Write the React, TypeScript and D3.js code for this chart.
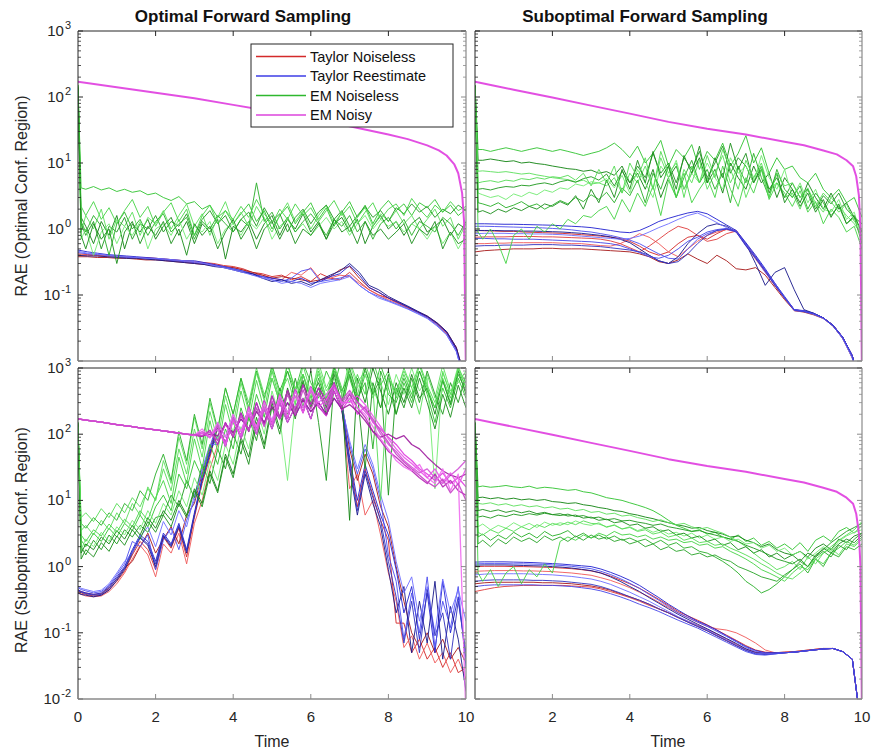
import React from "react";
import * as d3 from "d3";

// ---------- time grids ----------
const tNoise: number[] = [0, 0.08, ...d3.range(1, 51).map((i) => +(i * 0.2).toFixed(2))];
const tSmooth: number[] = d3.range(0, 41).map((i) => i * 0.25);
const tMagOpt = [0, 1, 2, 3, 4, 5, 6, 7, 8, 8.5, 9, 9.3, 9.5, 9.7, 9.8, 9.9, 9.95, 10];
const tMagSub = [0, 0.5, 1, 2, 3, 4, 5, 6, 7, 8, 8.5, 9, 9.35, 9.6, 9.77, 9.85, 9.92, 9.96, 10];

// ---------- EM Noisy (smooth) ----------
const magOpt = [170, 140, 116, 96, 76, 60, 47, 36, 27, 23, 18.5, 15.5, 13, 9.5, 7, 3.5, 1.3, 0.005];
const magSub = [170, 148, 129, 98, 74, 56, 42, 33, 27, 21, 18.6, 15.5, 13.5, 11, 8.9, 6.3, 3.2, 1, 0.005];

// ---------- Top-left ----------
const tlGreen = [
  [150, 4.2, 4.0, 4.4, 3.9, 4.2, 3.7, 4.0, 3.6, 3.8, 3.3, 3.5, 3.0, 2.7, 3.1, 2.4, 2.6, 2.0, 2.3, 1.5, 1.9, 1.2, 1.7, 2.4, 1.3, 1.9, 1.0, 1.6, 2.2, 1.2, 1.8, 2.5, 1.4, 2.1, 1.1, 1.8, 2.6, 1.5, 2.3, 1.2, 2.0, 2.7, 1.9, 2.4, 1.6, 2.5, 2.1, 2.8, 1.8, 2.3, 1.6, 2.0],
  [140, 1.5, 1.1, 0.6, 1.3, 0.8, 1.6, 0.5, 1.2, 0.9, 1.4, 0.7, 1.1, 1.5, 0.8, 1.3, 0.6, 1.2, 0.9, 1.4, 0.35, 1.1, 0.9, 1.3, 0.7, 1.2, 1.6, 0.8, 1.4, 1.0, 1.7, 0.9, 1.3, 0.7, 1.2, 1.5, 0.9, 1.4, 0.6, 1.1, 1.6, 1.0, 1.3, 0.8, 1.2, 1.5, 0.9, 1.1, 1.4, 0.8, 1.2, 1.0],
  [150, 0.9, 1.6, 1.0, 2.0, 0.7, 1.4, 1.1, 1.8, 0.8, 1.5, 1.2, 1.9, 1.0, 1.6, 2.4, 1.1, 1.7, 0.8, 1.5, 2.6, 1.2, 1.8, 1.1, 2.2, 1.4, 0.9, 1.6, 2.5, 1.3, 1.9, 1.0, 1.6, 2.3, 1.2, 1.8, 0.9, 1.5, 2.1, 1.1, 1.7, 1.3, 1.9, 1.2, 1.6, 1.0, 1.4, 2.0, 1.1, 1.5, 0.7, 1.2],
  [130, 1.2, 0.8, 1.3, 0.5, 1.1, 0.9, 1.5, 0.7, 1.2, 1.0, 1.6, 0.9, 1.3, 1.1, 1.7, 0.8, 1.4, 1.9, 1.2, 1.6, 0.9, 1.4, 1.8, 1.1, 2.1, 1.3, 1.7, 0.9, 1.5, 2.0, 1.2, 1.8, 2.3, 1.4, 1.9, 1.1, 1.6, 2.2, 1.5, 1.9, 1.3, 2.1, 1.7, 2.4, 1.8, 2.2, 1.5, 2.0, 1.7, 2.3, 1.9],
  [120, 0.7, 1.0, 0.4, 0.9, 1.2, 0.6, 1.1, 0.8, 1.3, 0.5, 1.0, 1.2, 0.8, 1.4, 0.7, 1.1, 0.9, 1.3, 0.6, 1.0, 1.2, 0.8, 1.3, 1.0, 1.5, 0.7, 1.1, 1.4, 0.9, 1.2, 0.8, 1.1, 1.5, 1.0, 1.3, 0.8, 1.2, 1.6, 1.0, 1.4, 1.1, 1.3, 0.9, 1.2, 1.0, 0.7, 1.1, 0.6, 0.9, 0.5, 0.8],
  [150, 1.3, 0.9, 1.6, 1.1, 0.4, 1.2, 1.8, 1.0, 1.4, 0.8, 1.3, 1.7, 0.9, 1.2, 1.5, 0.7, 1.3, 1.0, 1.6, 1.2, 0.9, 1.4, 1.1, 5.0, 1.3, 1.8, 1.0, 1.5, 0.9, 1.3, 1.7, 1.2, 0.8, 1.4, 1.1, 1.6, 0.9, 1.3, 0.7, 1.2, 1.5, 1.0, 1.4, 0.8, 1.3, 1.1, 0.9, 1.5, 1.2, 0.8, 1.3],
  [150, 2.2, 1.6, 2.6, 1.4, 2.1, 1.2, 1.9, 2.8, 1.5, 2.2, 1.1, 1.8, 2.5, 1.3, 2.0, 0.8, 1.6, 2.3, 1.2, 1.9, 1.4, 2.2, 1.5, 2.8, 1.7, 1.2, 2.0, 1.4, 2.4, 1.6, 2.1, 1.3, 1.9, 2.7, 1.6, 2.2, 1.2, 1.8, 2.5, 1.4, 2.0, 2.4, 1.6, 2.9, 2.0, 1.5, 2.3, 1.8, 2.6, 1.9, 2.2],
  [140, 0.8, 0.5, 1.2, 0.7, 1.0, 0.3, 0.9, 1.3, 0.6, 1.1, 0.8, 1.3, 0.6, 1.0, 0.4, 1.2, 0.8, 1.1, 0.5, 0.9, 1.4, 0.7, 1.1, 0.5, 1.0, 1.3, 0.7, 1.2, 0.6, 1.0, 0.8, 1.2, 0.7, 1.4, 0.9, 1.1, 0.6, 1.3, 0.8, 1.0, 0.7, 0.9, 1.2, 0.6, 1.0, 0.8, 1.3, 0.5, 0.9, 0.6, 0.7],
];
const tlRed = [
  [0.42, 0.41, 0.40, 0.40, 0.39, 0.38, 0.37, 0.37, 0.36, 0.35, 0.34, 0.33, 0.32, 0.31, 0.30, 0.28, 0.27, 0.25, 0.22, 0.21, 0.19, 0.20, 0.17, 0.19, 0.16, 0.21, 0.18, 0.17, 0.22, 0.16, 0.12, 0.10, 0.09, 0.075, 0.064, 0.055, 0.047, 0.037, 0.027, 0.016, 0.004],
  [0.40, 0.40, 0.39, 0.38, 0.38, 0.37, 0.36, 0.35, 0.35, 0.34, 0.33, 0.32, 0.31, 0.30, 0.29, 0.27, 0.26, 0.24, 0.21, 0.20, 0.18, 0.17, 0.22, 0.20, 0.26, 0.17, 0.18, 0.20, 0.19, 0.15, 0.12, 0.10, 0.085, 0.075, 0.065, 0.055, 0.046, 0.036, 0.026, 0.015, 0.004],
  [0.38, 0.38, 0.37, 0.37, 0.36, 0.36, 0.35, 0.34, 0.34, 0.33, 0.32, 0.31, 0.30, 0.29, 0.28, 0.27, 0.26, 0.24, 0.22, 0.20, 0.18, 0.19, 0.18, 0.17, 0.16, 0.17, 0.19, 0.24, 0.27, 0.18, 0.13, 0.11, 0.09, 0.078, 0.066, 0.056, 0.048, 0.038, 0.028, 0.016, 0.005],
];
const tlBlue = [
  [0.48, 0.45, 0.43, 0.41, 0.40, 0.39, 0.38, 0.37, 0.36, 0.35, 0.34, 0.33, 0.33, 0.31, 0.29, 0.27, 0.25, 0.23, 0.21, 0.19, 0.18, 0.17, 0.16, 0.18, 0.15, 0.16, 0.19, 0.21, 0.28, 0.20, 0.13, 0.11, 0.09, 0.077, 0.066, 0.055, 0.047, 0.037, 0.027, 0.015, 0.004],
  [0.44, 0.42, 0.41, 0.40, 0.38, 0.37, 0.37, 0.36, 0.35, 0.34, 0.33, 0.32, 0.31, 0.30, 0.28, 0.27, 0.25, 0.23, 0.20, 0.19, 0.17, 0.16, 0.18, 0.23, 0.25, 0.16, 0.17, 0.18, 0.20, 0.14, 0.11, 0.095, 0.082, 0.072, 0.062, 0.053, 0.045, 0.035, 0.025, 0.014, 0.004],
  [0.40, 0.39, 0.39, 0.38, 0.37, 0.36, 0.36, 0.35, 0.34, 0.33, 0.32, 0.31, 0.30, 0.29, 0.27, 0.26, 0.24, 0.22, 0.21, 0.18, 0.16, 0.17, 0.15, 0.16, 0.14, 0.17, 0.20, 0.23, 0.30, 0.22, 0.14, 0.12, 0.095, 0.08, 0.068, 0.057, 0.048, 0.038, 0.028, 0.016, 0.005],
  [0.46, 0.43, 0.42, 0.40, 0.39, 0.38, 0.37, 0.36, 0.36, 0.35, 0.34, 0.33, 0.32, 0.30, 0.28, 0.26, 0.24, 0.22, 0.20, 0.18, 0.17, 0.15, 0.16, 0.15, 0.13, 0.15, 0.16, 0.17, 0.19, 0.14, 0.11, 0.09, 0.08, 0.07, 0.061, 0.052, 0.044, 0.034, 0.025, 0.014, 0.004],
];

// ---------- Top-right ----------
const trGreen = [
  [150, 16, 16, 15, 16, 17, 16, 15, 16, 17, 16, 15, 16, 15, 14, 13, 14, 15, 17, 20, 16, 12, 18, 10, 14, 22, 9, 16, 12, 19, 8, 15, 11, 20, 9, 14, 26, 10, 17, 7, 12, 8, 9, 6, 5, 7, 4, 3, 4, 2.5, 3, 1.5],
  [150, 11, 11, 11.5, 11, 10.5, 10.8, 10, 10.3, 9.8, 9.5, 9.0, 8.6, 8.2, 8.0, 7.5, 7.8, 7.0, 7.4, 6.5, 9, 5, 7, 4, 8, 3, 6, 9, 4, 7, 12, 5, 8, 3.5, 10, 6, 4, 9, 5, 7, 3, 6, 4, 2.5, 5, 3, 2, 3.5, 2, 2.5, 1.5, 1.2],
  [140, 7.5, 7.6, 7.4, 7.2, 7.4, 7.1, 6.8, 7.0, 6.6, 6.3, 6.0, 5.8, 5.6, 5.2, 5.5, 4.8, 5.0, 4.5, 6, 3.5, 7, 5, 9, 4, 12, 6, 3, 8, 5, 11, 4, 7, 13, 5, 9, 3, 6, 10, 4, 5, 3, 3.5, 2, 4, 2.5, 1.8, 3, 2.2, 1.6, 1.2, 0.8],
  [130, 4, 4.1, 3.9, 4.2, 4.4, 4.3, 4.6, 4.5, 4.8, 5.0, 4.7, 5.2, 5.5, 5.1, 5.8, 6.2, 5.5, 6.8, 4.5, 7.5, 5, 9, 6, 14, 7, 10, 5, 12, 8, 15, 6, 10, 18, 7, 12, 9, 5, 8, 4, 6, 3, 5, 3, 4, 2, 3.2, 2.4, 3.5, 2.0, 1.5, 0.9],
  [120, 3.5, 3.3, 3.0, 3.2, 2.8, 3.4, 3.1, 3.6, 3.3, 3.9, 3.6, 4.2, 4.0, 4.8, 4.5, 5.2, 5.0, 5.8, 4.2, 6.5, 3.5, 8, 5, 3, 9, 6, 11, 4, 7, 5, 10, 6, 4, 12, 7, 9, 5, 13, 6, 4, 8, 3, 5, 2.5, 4, 2, 1.8, 2.8, 1.4, 1.8, 0.7],
  [150, 2.5, 2.4, 2.2, 2.5, 2.1, 2.3, 2.6, 2.2, 2.4, 2.0, 2.3, 2.7, 2.4, 3.0, 2.6, 3.3, 2.8, 3.6, 2.5, 4.2, 3.2, 5.5, 2.5, 7, 4, 9, 3, 6, 11, 5, 8, 4, 7, 2.5, 9, 5, 14, 6, 3, 8, 4, 3, 4.5, 2, 3.5, 2.5, 1.6, 2.2, 1.2, 1.5, 0.6],
  [150, 0.9, 0.7, 1.0, 0.6, 0.3, 0.8, 1.0, 0.7, 1.1, 0.9, 1.2, 1.0, 1.4, 1.2, 1.6, 1.5, 1.9, 2.2, 1.4, 2.8, 1.8, 3.5, 2.2, 4.5, 1.6, 5.5, 3.0, 7, 2.5, 4, 6, 3, 9, 4, 2.2, 6, 3.5, 8, 2.8, 5, 3.5, 2.2, 3.8, 1.8, 2.6, 1.2, 2.0, 1.5, 0.9, 1.1, 0.5],
  [150, 1.8, 1.9, 1.7, 2.0, 1.8, 2.1, 1.9, 2.2, 2.0, 2.4, 2.2, 2.6, 2.3, 3.2, 2.0, 4.0, 2.5, 5.5, 3.0, 8, 4, 11, 5, 15, 6, 9, 4, 13, 7, 18, 5, 12, 6, 20, 8, 14, 5, 9, 3.5, 7, 2.5, 4, 2.2, 3.5, 1.8, 2.8, 1.5, 2.4, 1.2, 1.6, 0.9],
  [140, 5, 5.2, 5.4, 5.1, 5.5, 5.3, 5.8, 5.6, 6.0, 5.7, 6.2, 6.0, 6.5, 5.5, 7, 4.5, 8, 5, 9, 3.5, 10, 6, 12, 4, 15, 7, 10, 3, 9, 5, 13, 6, 16, 8, 4, 11, 6, 9, 3, 7, 4.5, 5, 3, 4.2, 2.2, 3.5, 2.6, 1.8, 2.4, 1.3, 1.0],
];
const trRed = [
  [0.95, 0.94, 0.93, 0.92, 0.92, 0.9, 0.89, 0.88, 0.87, 0.86, 0.84, 0.82, 0.8, 0.78, 0.75, 0.72, 0.65, 0.55, 0.45, 0.4, 0.45, 0.6, 0.75, 0.8, 0.7, 0.85, 1.0, 0.95, 0.6, 0.38, 0.23, 0.14, 0.09, 0.058, 0.056, 0.052, 0.045, 0.035, 0.023, 0.012, 0.003],
  [0.6, 0.6, 0.61, 0.61, 0.62, 0.62, 0.62, 0.62, 0.62, 0.61, 0.6, 0.6, 0.58, 0.56, 0.55, 0.6, 0.7, 0.85, 0.75, 0.6, 0.45, 0.38, 0.5, 0.65, 0.8, 0.9, 0.98, 0.9, 0.56, 0.35, 0.22, 0.14, 0.09, 0.06, 0.057, 0.052, 0.045, 0.034, 0.022, 0.012, 0.003],
  [0.45, 0.47, 0.48, 0.49, 0.5, 0.5, 0.5, 0.51, 0.51, 0.5, 0.5, 0.5, 0.49, 0.48, 0.47, 0.46, 0.45, 0.42, 0.38, 0.32, 0.3, 0.34, 0.42, 0.35, 0.3, 0.4, 0.33, 0.25, 0.24, 0.26, 0.2, 0.13, 0.085, 0.058, 0.055, 0.05, 0.044, 0.034, 0.022, 0.011, 0.003],
  [0.75, 0.76, 0.76, 0.76, 0.77, 0.77, 0.77, 0.76, 0.76, 0.75, 0.74, 0.73, 0.72, 0.7, 0.66, 0.6, 0.52, 0.45, 0.55, 0.7, 0.9, 1.1, 1.0, 0.8, 0.65, 0.7, 0.85, 0.93, 0.58, 0.37, 0.23, 0.14, 0.09, 0.06, 0.056, 0.052, 0.045, 0.035, 0.023, 0.012, 0.003],
];
const trBlue = [
  [1.2, 1.2, 1.19, 1.18, 1.18, 1.17, 1.16, 1.15, 1.14, 1.12, 1.10, 1.08, 1.05, 1.0, 0.95, 0.9, 0.88, 0.95, 1.1, 1.3, 1.45, 1.6, 1.75, 1.85, 1.7, 1.4, 1.15, 0.95, 0.62, 0.4, 0.25, 0.15, 0.095, 0.06, 0.058, 0.053, 0.045, 0.035, 0.023, 0.012, 0.003],
  [1.1, 1.1, 1.09, 1.08, 1.07, 1.06, 1.05, 1.04, 1.02, 1.0, 0.97, 0.93, 0.9, 0.85, 0.8, 0.74, 0.68, 0.6, 0.5, 0.42, 0.36, 0.35, 0.5, 0.7, 0.85, 0.95, 1.0, 0.9, 0.55, 0.38, 0.24, 0.15, 0.09, 0.06, 0.057, 0.052, 0.045, 0.034, 0.022, 0.012, 0.003],
  [0.95, 0.95, 0.95, 0.94, 0.94, 0.93, 0.93, 0.92, 0.91, 0.9, 0.88, 0.86, 0.83, 0.8, 0.76, 0.7, 0.62, 0.5, 0.4, 0.33, 0.3, 0.38, 0.6, 0.85, 1.1, 1.2, 1.1, 0.9, 0.6, 0.3, 0.14, 0.22, 0.26, 0.12, 0.06, 0.053, 0.045, 0.035, 0.023, 0.012, 0.003],
  [0.85, 0.86, 0.86, 0.86, 0.85, 0.85, 0.84, 0.84, 0.83, 0.82, 0.8, 0.78, 0.76, 0.74, 0.72, 0.7, 0.72, 0.78, 0.9, 1.05, 1.2, 1.4, 1.6, 1.75, 1.5, 1.25, 1.05, 0.92, 0.58, 0.36, 0.22, 0.14, 0.09, 0.058, 0.056, 0.051, 0.044, 0.034, 0.022, 0.011, 0.003],
  [0.55, 0.56, 0.56, 0.57, 0.57, 0.57, 0.58, 0.58, 0.58, 0.57, 0.57, 0.56, 0.55, 0.54, 0.52, 0.5, 0.48, 0.45, 0.4, 0.33, 0.3, 0.32, 0.42, 0.6, 0.8, 0.95, 1.0, 0.92, 0.56, 0.36, 0.23, 0.14, 0.09, 0.059, 0.056, 0.052, 0.045, 0.034, 0.023, 0.012, 0.003],
  [0.72, 0.72, 0.71, 0.71, 0.7, 0.7, 0.7, 0.69, 0.68, 0.67, 0.66, 0.65, 0.64, 0.62, 0.6, 0.56, 0.5, 0.44, 0.38, 0.36, 0.4, 0.5, 0.65, 0.75, 0.9, 0.98, 1.02, 0.93, 0.6, 0.38, 0.24, 0.15, 0.092, 0.06, 0.057, 0.052, 0.045, 0.035, 0.023, 0.012, 0.003],
];

// ---------- Bottom-left ----------
const blGreen = [
  [150, 2.5, 2.0, 3.2, 2.4, 3.8, 2.8, 4.5, 3.5, 6, 4, 8, 12, 7, 25, 15, 40, 22, 70, 35, 120, 60, 250, 110, 400, 180, 700, 300, 900, 450, 1200, 600, 350, 900, 500, 1500, 700, 300, 800, 400, 1100, 500, 200, 600, 300, 900, 400, 150, 500, 250, 700, 350],
  [140, 1.6, 2.2, 1.8, 2.8, 2.2, 3.5, 2.6, 4.2, 3.0, 5.5, 3.8, 7, 5, 10, 6, 15, 9, 28, 14, 50, 25, 90, 45, 180, 70, 300, 120, 500, 200, 800, 350, 600, 250, 900, 400, 5, 700, 300, 1000, 450, 200, 600, 300, 800, 350, 500, 200, 650, 280, 900, 400],
  [150, 3.5, 4.2, 3.0, 5.0, 3.6, 6.5, 4.5, 9, 6, 16, 10, 40, 18, 90, 35, 180, 60, 300, 110, 500, 200, 700, 300, 1000, 400, 700, 300, 1100, 500, 800, 350, 1200, 500, 900, 400, 1300, 600, 900, 500, 250, 700, 400, 1000, 500, 200, 800, 350, 1100, 450, 600, 900],
  [130, 2.0, 1.5, 2.5, 1.8, 3.0, 2.2, 3.6, 2.8, 4.2, 3.3, 5.5, 6, 12, 8, 20, 11, 35, 18, 60, 30, 100, 50, 180, 80, 300, 140, 500, 200, 700, 250, 900, 150, 20, 600, 250, 800, 300, 1000, 400, 700, 12, 500, 250, 700, 300, 900, 400, 200, 600, 300, 800],
  [150, 1.8, 2.6, 2.0, 3.3, 2.4, 4.0, 3.0, 5.0, 3.6, 7, 4.5, 9, 6, 14, 8, 22, 12, 40, 20, 70, 35, 130, 60, 250, 100, 450, 180, 20, 300, 800, 400, 1000, 450, 700, 300, 1200, 500, 800, 350, 600, 280, 800, 400, 1000, 450, 700, 15, 900, 400, 1100, 500],
  [120, 4.5, 3.8, 5.5, 4.2, 6.5, 5.0, 9, 7, 14, 10, 25, 50, 20, 110, 40, 200, 70, 350, 120, 500, 200, 700, 250, 900, 350, 1100, 450, 900, 350, 600, 250, 700, 300, 1000, 450, 800, 350, 600, 60, 900, 400, 300, 700, 350, 900, 450, 250, 650, 300, 800, 450],
  [140, 3.0, 2.4, 3.6, 2.9, 4.4, 3.3, 5.2, 4.0, 7, 5, 11, 20, 9, 45, 18, 85, 30, 160, 55, 280, 100, 450, 160, 650, 230, 900, 320, 1200, 450, 800, 300, 900, 350, 1100, 500, 300, 800, 400, 1300, 550, 900, 350, 800, 400, 1100, 500, 250, 700, 350, 950, 500],
  [150, 1.3, 1.8, 1.4, 2.3, 1.7, 2.9, 2.1, 3.6, 2.6, 4.8, 3.3, 6, 4, 9, 5.5, 14, 8, 25, 13, 45, 22, 80, 35, 150, 60, 260, 100, 450, 170, 650, 250, 500, 200, 800, 300, 1000, 400, 30, 600, 250, 800, 200, 500, 250, 700, 300, 120, 400, 180, 550, 250],
  [130, 5.5, 6.5, 4.8, 7.5, 5.5, 9, 6.5, 11, 8, 15, 10, 30, 14, 60, 25, 120, 45, 220, 80, 380, 140, 600, 220, 850, 320, 1000, 400, 700, 280, 1100, 420, 800, 320, 600, 250, 900, 380, 1200, 500, 10, 700, 450, 900, 500, 1200, 550, 300, 850, 400, 1000, 600],
];
const blMagenta = [
  [170, 167, 163, 157, 152, 146, 140, 135, 130, 125, 120, 116, 112, 108, 104, 100, 96, 110, 88, 130, 75, 170, 95, 260, 120, 320, 140, 400, 170, 480, 210, 520, 260, 190, 450, 230, 350, 200, 260, 150, 120, 90, 70, 50, 40, 30, 25, 20, 26, 18, 22, 16],
  [170, 167, 163, 157, 152, 146, 140, 135, 130, 125, 120, 116, 112, 108, 104, 100, 98, 92, 115, 70, 150, 90, 210, 110, 300, 140, 380, 180, 460, 230, 560, 280, 500, 320, 600, 260, 400, 250, 180, 110, 80, 55, 45, 35, 28, 22, 18, 25, 16, 20, 14, 12],
  [170, 167, 163, 157, 152, 146, 140, 135, 130, 125, 120, 116, 112, 108, 104, 100, 95, 105, 90, 140, 65, 180, 85, 200, 100, 240, 120, 300, 150, 260, 350, 170, 420, 230, 520, 300, 420, 300, 220, 160, 100, 70, 55, 40, 32, 26, 30, 22, 18, 24, 30, 40],
  [170, 167, 163, 157, 152, 146, 140, 135, 130, 125, 120, 116, 112, 108, 104, 100, 96, 94, 100, 95, 140, 105, 170, 120, 220, 150, 260, 170, 300, 190, 330, 220, 300, 200, 350, 240, 280, 220, 160, 110, 90, 100, 85, 95, 70, 60, 45, 35, 28, 24, 22, 25],
  [170, 167, 163, 157, 152, 146, 140, 135, 130, 125, 120, 116, 112, 108, 104, 100, 97, 120, 90, 150, 90, 200, 110, 240, 130, 300, 160, 380, 210, 440, 250, 500, 300, 400, 560, 280, 350, 250, 200, 130, 85, 60, 40, 32, 28, 35, 22, 18, 30, 14, 25, 0.005],
  [170, 167, 163, 157, 152, 146, 140, 135, 130, 125, 120, 116, 112, 108, 104, 100, 96, 102, 93, 118, 70, 160, 95, 210, 115, 260, 140, 330, 180, 380, 210, 450, 260, 330, 520, 300, 300, 380, 280, 190, 130, 85, 60, 45, 36, 28, 22, 30, 19, 26, 17, 30],
  [170, 167, 163, 157, 152, 146, 140, 135, 130, 125, 120, 116, 112, 108, 104, 100, 99, 95, 108, 80, 140, 95, 190, 115, 250, 130, 320, 170, 400, 200, 470, 240, 420, 280, 560, 330, 460, 310, 240, 170, 110, 75, 50, 38, 30, 24, 19, 16, 21, 13, 18, 10],
];
const blRed = [
  [0.42, 0.40, 0.38, 0.36, 0.37, 0.45, 0.6, 0.85, 1.5, 2.4, 1.8, 0.9, 2.8, 1.9, 3.8, 1.4, 5.5, 18, 45, 130, 75, 170, 95, 260, 120, 320, 140, 400, 170, 480, 210, 520, 260, 190, 450, 230, 40, 8, 30, 12, 5, 2.5, 0.14, 0.14, 0.05, 0.08, 0.04, 0.06, 0.03, 0.05, 0.025, 0.03],
  [0.4, 0.38, 0.36, 0.35, 0.36, 0.42, 0.55, 0.8, 1.3, 2.1, 1.5, 0.7, 2.2, 1.6, 3.2, 1.1, 4.5, 10, 30, 70, 150, 90, 210, 110, 300, 140, 380, 180, 460, 230, 560, 280, 500, 320, 600, 260, 15, 25, 6, 10, 3, 0.8, 0.3, 0.06, 0.09, 0.04, 0.07, 0.035, 0.05, 0.025, 0.04, 0.02],
  [0.44, 0.42, 0.4, 0.38, 0.39, 0.48, 0.65, 0.95, 1.2, 2.0, 3.2, 1.6, 2.6, 4.0, 2.2, 6, 9, 25, 60, 140, 65, 180, 85, 200, 100, 240, 120, 300, 150, 260, 350, 170, 420, 230, 520, 300, 60, 20, 50, 25, 8, 4, 1.0, 0.3, 0.1, 0.06, 0.1, 0.05, 0.08, 0.04, 0.06, 0.035],
];
const blBlue = [
  [0.45, 0.42, 0.4, 0.38, 0.4, 0.5, 0.7, 1.0, 1.8, 3.0, 2.4, 1.2, 3.2, 2.2, 4.5, 1.8, 6.5, 22, 55, 95, 140, 105, 170, 120, 220, 150, 260, 170, 300, 190, 330, 220, 300, 200, 350, 240, 45, 10, 35, 14, 6, 3, 0.9, 0.2, 0.5, 0.08, 0.4, 0.05, 0.6, 0.1, 0.35, 0.04],
  [0.48, 0.45, 0.43, 0.4, 0.42, 0.52, 0.75, 1.1, 2.4, 2.0, 3.0, 0.9, 2.5, 3.8, 1.8, 5, 10, 28, 65, 150, 90, 200, 110, 240, 130, 300, 160, 380, 210, 440, 250, 500, 300, 400, 560, 280, 70, 25, 60, 30, 10, 1.5, 0.6, 0.08, 0.4, 0.1, 0.7, 0.06, 0.3, 0.12, 0.5, 0.03],
  [0.4, 0.38, 0.37, 0.35, 0.37, 0.44, 0.62, 0.9, 1.6, 2.7, 2.1, 1.0, 2.9, 2.0, 4.0, 1.6, 6, 20, 50, 130, 75, 170, 95, 260, 120, 320, 140, 400, 170, 480, 210, 520, 260, 190, 450, 230, 30, 6, 25, 9, 4, 0.9, 0.2, 0.5, 0.05, 0.3, 0.07, 0.6, 0.04, 0.25, 0.08, 0.013],
  [0.5, 0.47, 0.45, 0.42, 0.44, 0.55, 0.8, 1.2, 1.6, 2.8, 4.0, 2.0, 4.8, 3.0, 7, 4, 12, 30, 70, 70, 150, 90, 210, 110, 300, 140, 380, 180, 460, 230, 560, 280, 500, 320, 600, 260, 80, 30, 70, 35, 12, 5, 1.2, 0.4, 0.7, 0.15, 0.5, 0.1, 0.65, 0.2, 0.45, 0.15],
  [0.43, 0.41, 0.39, 0.37, 0.38, 0.47, 0.66, 0.95, 1.7, 2.8, 2.2, 1.1, 3.0, 2.1, 4.2, 1.7, 6, 21, 52, 140, 65, 180, 85, 200, 100, 240, 120, 300, 150, 260, 350, 170, 420, 230, 520, 300, 35, 7, 28, 11, 5, 1.2, 0.35, 0.07, 0.3, 0.05, 0.45, 0.09, 0.2, 0.04, 0.3, 0.05],
];

// ---------- Bottom-right ----------
const brGreen = [
  [150, 16, 16.5, 15.8, 16.2, 16.8, 16, 15.6, 16.4, 15.2, 15.8, 15.4, 14.8, 14.2, 14.6, 13.5, 13, 12, 11, 10.5, 10, 9.2, 8.5, 7.8, 7, 6, 5, 4.2, 3.8, 3.4, 3.6, 3.1, 3.3, 2.8, 2.6, 3, 2.4, 2.7, 2.1, 2.4, 1.9, 2.2, 1.8, 2.3, 1.7, 2.5, 2.9, 2.4, 3.4, 3.9, 3.2, 4.2],
  [140, 11, 11.2, 10.6, 11, 10.4, 10.8, 10.2, 10.5, 10, 10.3, 9.6, 9.4, 9, 9.2, 8.6, 8.3, 7.8, 7.5, 7, 6.8, 6.3, 6, 5.6, 5.3, 4.9, 4.6, 4.3, 4.1, 3.8, 3.9, 3.5, 3.3, 3.1, 2.8, 2.9, 2.5, 2.3, 2, 2.2, 1.8, 1.6, 1.5, 1.7, 1.4, 1.9, 2.2, 1.8, 2.6, 2.3, 2.9, 3.2],
  [130, 9, 8.8, 9.2, 8.5, 8.9, 8.2, 8.6, 8, 8.3, 7.7, 8, 7.4, 7.6, 7, 7.3, 6.6, 6.8, 6.2, 6.4, 5.8, 6, 5.5, 5.2, 4.8, 5.1, 4.6, 4.3, 4.5, 4, 3.7, 3.9, 3.5, 3.2, 2.8, 2.4, 2, 1.6, 1.3, 1.1, 0.9, 1.0, 1.2, 0.9, 1.4, 1.1, 1.6, 1.9, 1.5, 2.2, 2.0, 2.6],
  [120, 5.6, 5.8, 5.4, 6, 5.7, 6.2, 5.9, 6.3, 6, 6.4, 6.1, 5.9, 6.2, 5.7, 5.9, 5.4, 5.6, 5.1, 5.3, 4.9, 5, 4.7, 4.5, 4.2, 4.4, 4, 3.8, 3.6, 3.4, 3.5, 3.2, 3, 2.8, 2.6, 2.4, 2.1, 1.9, 1.7, 1.5, 1.3, 1.2, 1.1, 1.3, 1.0, 1.5, 1.8, 2.3, 2.8, 3.4, 3.9, 4.5],
  [150, 4, 4.4, 3.6, 4.2, 3.8, 4.6, 4.0, 4.5, 3.9, 4.7, 4.2, 4.6, 4.3, 4.9, 4.4, 4.2, 4.6, 3.9, 4.3, 3.7, 4, 3.5, 3.8, 3.3, 3.6, 3.1, 3.3, 2.9, 3.2, 2.7, 3, 2.6, 2.8, 2.4, 2.6, 2.2, 2.3, 1.9, 2.1, 1.7, 1.9, 1.5, 1.7, 1.3, 1.6, 2.0, 1.7, 2.4, 2.9, 3.3, 3.6],
  [140, 2.8, 3.1, 2.5, 3.0, 2.6, 3.3, 2.8, 3.2, 2.7, 3.4, 2.9, 3.1, 3.5, 2.8, 3.2, 2.7, 3.0, 2.6, 2.9, 2.5, 2.7, 2.4, 2.6, 2.2, 2.5, 2.1, 2.3, 1.9, 2.0, 1.7, 1.6, 1.4, 1.2, 1.0, 0.8, 0.6, 0.5, 0.4, 0.45, 0.55, 0.7, 0.9, 1.1, 0.8, 1.3, 1.0, 1.6, 1.4, 2.0, 1.8, 2.2],
  [150, 0.8, 0.6, 0.9, 0.5, 0.8, 1.0, 0.55, 0.9, 0.7, 1.1, 0.8, 2.4, 2.8, 2.5, 3.0, 2.7, 3.2, 2.9, 3.4, 3.0, 3.1, 2.8, 3.0, 2.6, 2.8, 2.5, 2.6, 2.3, 2.4, 2.1, 2.2, 1.9, 2.0, 1.7, 1.5, 1.3, 1.1, 0.9, 0.8, 0.7, 0.6, 0.8, 1.0, 0.9, 1.3, 1.1, 1.6, 1.9, 2.4, 2.1, 2.8],
  [150, 7, 7.3, 6.8, 7.2, 6.6, 7.0, 6.5, 6.9, 6.3, 6.6, 6.1, 6.3, 5.8, 6.0, 5.4, 5.6, 5.0, 5.2, 4.6, 4.8, 4.2, 4.4, 3.8, 4.0, 3.4, 3.6, 3.0, 3.2, 2.7, 2.9, 2.4, 2.6, 2.1, 2.3, 1.8, 2.0, 1.6, 1.8, 1.4, 1.6, 1.3, 1.5, 1.2, 1.6, 1.4, 1.9, 1.6, 2.2, 2.6, 2.3, 3.0],
  [140, 3.3, 3.0, 3.6, 3.2, 3.8, 3.4, 4.0, 3.6, 4.3, 3.9, 4.5, 4.2, 4.7, 4.3, 4.9, 4.5, 4.4, 4.0, 4.2, 3.7, 3.9, 3.4, 3.6, 3.1, 3.3, 2.8, 3.0, 2.5, 2.7, 2.3, 2.4, 2.1, 2.2, 1.9, 1.7, 1.5, 1.3, 1.1, 0.95, 0.8, 0.7, 0.65, 0.8, 1.0, 1.3, 1.6, 2.0, 2.5, 3.0, 3.6, 4.8],
  [130, 2.2, 2.5, 2.0, 2.6, 2.2, 2.8, 2.4, 2.7, 2.3, 2.9, 2.5, 2.8, 2.4, 2.9, 2.5, 3.0, 2.6, 2.8, 2.4, 2.6, 2.2, 2.4, 2.0, 2.2, 1.8, 2.0, 1.7, 1.8, 1.5, 1.6, 1.4, 1.5, 1.3, 1.2, 1.0, 0.9, 0.8, 0.7, 0.65, 0.6, 0.75, 0.9, 1.2, 1.0, 1.4, 1.7, 1.4, 2.1, 1.8, 2.6, 3.2],
];
const brRed = [
  [1.0, 1.01, 1.01, 1.01, 1.0, 1.0, 0.99, 0.98, 0.97, 0.95, 0.93, 0.9, 0.86, 0.8, 0.72, 0.63, 0.55, 0.47, 0.39, 0.32, 0.26, 0.21, 0.18, 0.155, 0.132, 0.11, 0.092, 0.077, 0.064, 0.055, 0.051, 0.05, 0.05, 0.051, 0.053, 0.055, 0.057, 0.058, 0.052, 0.04, 0.003],
  [0.85, 0.86, 0.87, 0.87, 0.87, 0.86, 0.86, 0.85, 0.84, 0.82, 0.8, 0.77, 0.74, 0.68, 0.62, 0.55, 0.48, 0.41, 0.35, 0.29, 0.24, 0.2, 0.17, 0.145, 0.125, 0.115, 0.11, 0.1, 0.085, 0.07, 0.055, 0.05, 0.05, 0.051, 0.053, 0.055, 0.057, 0.058, 0.052, 0.04, 0.003],
  [0.55, 0.57, 0.58, 0.58, 0.58, 0.58, 0.58, 0.57, 0.57, 0.56, 0.55, 0.53, 0.51, 0.48, 0.44, 0.39, 0.35, 0.31, 0.27, 0.23, 0.2, 0.17, 0.145, 0.125, 0.107, 0.09, 0.076, 0.064, 0.055, 0.05, 0.049, 0.05, 0.051, 0.052, 0.054, 0.056, 0.058, 0.058, 0.052, 0.04, 0.003],
  [0.42, 0.45, 0.48, 0.5, 0.51, 0.52, 0.52, 0.52, 0.52, 0.52, 0.51, 0.5, 0.49, 0.46, 0.42, 0.38, 0.34, 0.3, 0.26, 0.23, 0.2, 0.17, 0.15, 0.13, 0.112, 0.095, 0.08, 0.067, 0.057, 0.051, 0.049, 0.05, 0.051, 0.052, 0.054, 0.056, 0.058, 0.058, 0.052, 0.04, 0.003],
];
const brBlue = [
  [1.17, 1.18, 1.18, 1.18, 1.17, 1.16, 1.15, 1.13, 1.11, 1.09, 1.06, 1.03, 1.0, 0.92, 0.82, 0.72, 0.62, 0.52, 0.42, 0.34, 0.27, 0.22, 0.18, 0.15, 0.13, 0.11, 0.09, 0.075, 0.062, 0.054, 0.05, 0.05, 0.05, 0.051, 0.053, 0.055, 0.057, 0.058, 0.052, 0.04, 0.003],
  [1.1, 1.11, 1.11, 1.11, 1.1, 1.1, 1.09, 1.08, 1.06, 1.04, 1.01, 0.97, 0.93, 0.85, 0.76, 0.66, 0.56, 0.47, 0.38, 0.31, 0.25, 0.2, 0.17, 0.145, 0.125, 0.105, 0.088, 0.073, 0.06, 0.052, 0.049, 0.049, 0.05, 0.051, 0.053, 0.055, 0.057, 0.058, 0.052, 0.04, 0.003],
  [1.05, 1.06, 1.06, 1.06, 1.05, 1.04, 1.03, 1.02, 1.0, 0.98, 0.95, 0.91, 0.87, 0.8, 0.7, 0.6, 0.5, 0.42, 0.34, 0.28, 0.23, 0.19, 0.16, 0.135, 0.115, 0.097, 0.082, 0.069, 0.057, 0.05, 0.048, 0.049, 0.05, 0.051, 0.053, 0.055, 0.057, 0.058, 0.052, 0.04, 0.003],
  [0.75, 0.77, 0.78, 0.78, 0.78, 0.78, 0.77, 0.76, 0.75, 0.73, 0.71, 0.68, 0.65, 0.6, 0.54, 0.47, 0.41, 0.35, 0.3, 0.25, 0.21, 0.175, 0.15, 0.128, 0.11, 0.092, 0.078, 0.065, 0.055, 0.049, 0.048, 0.049, 0.05, 0.051, 0.053, 0.055, 0.057, 0.058, 0.052, 0.04, 0.003],
  [0.6, 0.62, 0.63, 0.63, 0.63, 0.63, 0.62, 0.62, 0.61, 0.6, 0.58, 0.56, 0.54, 0.5, 0.45, 0.4, 0.35, 0.31, 0.27, 0.23, 0.2, 0.17, 0.145, 0.125, 0.107, 0.09, 0.076, 0.064, 0.054, 0.048, 0.047, 0.048, 0.05, 0.051, 0.053, 0.055, 0.057, 0.058, 0.052, 0.04, 0.003],
  [0.5, 0.52, 0.53, 0.53, 0.53, 0.53, 0.53, 0.52, 0.52, 0.51, 0.5, 0.48, 0.46, 0.43, 0.39, 0.35, 0.31, 0.27, 0.24, 0.21, 0.18, 0.155, 0.135, 0.118, 0.1, 0.085, 0.072, 0.061, 0.052, 0.047, 0.046, 0.048, 0.05, 0.051, 0.053, 0.055, 0.057, 0.058, 0.052, 0.04, 0.003],
];

// ---------- labels ----------
const titles = ["Optimal Forward Sampling", "Suboptimal Forward Sampling"];
const yTitles = ["RAE (Optimal Conf. Region)", "RAE (Suboptimal Conf. Region)"];
const xTitle = "Time";
const legendLabels = ["Taylor Noiseless", "Taylor Reestimate", "EM Noiseless", "EM Noisy"];
const xTickValues = [0, 2, 4, 6, 8, 10];
const yExpTop = [3, 2, 1, 0, -1];
const yExpBottom = [3, 2, 1, 0, -1, -2];

// ---------- styles ----------
const REDS = ["#d42a2a", "#f05a5a", "#a81c1c", "#e04040"];
const BLUES = ["#2424d0", "#5050f0", "#1a1a8c", "#7070ff", "#3434c0", "#4848e8"];
const GREENS = ["#33c433", "#158515", "#5ee05e", "#229a22", "#74ec74", "#2bb02b", "#48d448", "#1e901e", "#58dc58", "#2aa52a"];
const MAGS = ["#e040e0", "#b828b8", "#d458d8", "#a020a0", "#f070f0", "#e858e8", "#c848c8"];
const LEG_COLORS = ["#d42a2a", "#3c3ce6", "#2eb82e", "#dd44dd"];
const FONT = "'Liberation Sans', Arial, Helvetica, sans-serif";

type Series = { t: number[]; v: number[]; color: string; w: number };

function mk(t: number[], arrs: number[][], colors: string[], w = 1): Series[] {
  return arrs.map((v, i) => ({ t, v, color: colors[i % colors.length], w }));
}

type PanelDef = {
  id: string;
  x0: number; x1: number; y0: number; y1: number;
  series: Series[];
  yExp: number[];
  xLabels: number[];
  legend?: boolean;
};

const PANELS: PanelDef[] = [
  {
    id: "tl", x0: 78, x1: 466, y0: 31, y1: 361,
    series: [
      ...mk(tSmooth, tlRed, REDS), ...mk(tSmooth, tlBlue, BLUES),
      ...mk(tNoise, tlGreen, GREENS), ...mk(tMagOpt, [magOpt], MAGS, 2),
    ],
    yExp: yExpTop, xLabels: [], legend: true,
  },
  {
    id: "tr", x0: 475, x1: 862, y0: 31, y1: 361,
    series: [
      ...mk(tSmooth, trRed, REDS), ...mk(tSmooth, trBlue, BLUES),
      ...mk(tNoise, trGreen, GREENS), ...mk(tMagSub, [magSub], MAGS, 2),
    ],
    yExp: [], xLabels: [],
  },
  {
    id: "bl", x0: 78, x1: 466, y0: 368, y1: 699,
    series: [
      ...mk(tNoise, blRed, REDS), ...mk(tNoise, blBlue, BLUES),
      ...mk(tNoise, blGreen, GREENS), ...mk(tNoise, blMagenta, MAGS, 1.3),
    ],
    yExp: yExpBottom, xLabels: xTickValues,
  },
  {
    id: "br", x0: 475, x1: 862, y0: 368, y1: 699,
    series: [
      ...mk(tSmooth, brRed, REDS), ...mk(tSmooth, brBlue, BLUES),
      ...mk(tNoise, brGreen, GREENS), ...mk(tMagSub, [magSub], MAGS, 2),
    ],
    yExp: [], xLabels: xTickValues.slice(1),
  },
];

function Panel({ p }: { p: PanelDef }) {
  const x = d3.scaleLinear().domain([0, 10]).range([p.x0, p.x1]);
  const y = d3.scaleLog().domain([1e-2, 1e3]).range([p.y1, p.y0]);
  const line = d3
    .line<[number, number]>()
    .x((d) => x(d[0]))
    .y((d) => y(Math.max(d[1], 1e-5)));

  const majors = d3.range(-2, 4).map((e) => Math.pow(10, e));
  const minors: number[] = [];
  for (let e = -2; e < 3; e++) for (let m = 2; m <= 9; m++) minors.push(m * Math.pow(10, e));
  const xt = [2, 4, 6, 8];
  const axisDark = "#262626";
  const axisGray = "#8a8a8a";

  return (
    <g>
      <defs>
        <clipPath id={`clip-${p.id}`}>
          <rect x={p.x0} y={p.y0} width={p.x1 - p.x0} height={p.y1 - p.y0} />
        </clipPath>
      </defs>
      <rect x={p.x0} y={p.y0} width={p.x1 - p.x0} height={p.y1 - p.y0} fill="#fff" />
      <g clipPath={`url(#clip-${p.id})`} fill="none" strokeLinejoin="round">
        {p.series.map((s, i) => {
          const n = Math.min(s.t.length, s.v.length);
          const pts: [number, number][] = d3.range(n).map((k) => [s.t[k], s.v[k]]);
          return <path key={i} d={line(pts) || ""} stroke={s.color} strokeWidth={s.w} strokeOpacity={0.92} />;
        })}
      </g>
      {minors.map((v, i) => (
        <g key={"mi" + i} strokeWidth={0.8}>
          <line x1={p.x0} x2={p.x0 + 3} y1={y(v)} y2={y(v)} stroke={axisDark} />
          <line x1={p.x1} x2={p.x1 - 3} y1={y(v)} y2={y(v)} stroke={axisGray} />
        </g>
      ))}
      {majors.map((v, i) => (
        <g key={"ma" + i} strokeWidth={1}>
          <line x1={p.x0} x2={p.x0 + 5} y1={y(v)} y2={y(v)} stroke={axisDark} />
          <line x1={p.x1} x2={p.x1 - 5} y1={y(v)} y2={y(v)} stroke={axisGray} />
        </g>
      ))}
      {xt.map((t) => (
        <g key={"xt" + t} strokeWidth={1}>
          <line x1={x(t)} x2={x(t)} y1={p.y1} y2={p.y1 - 5} stroke={axisGray} />
          <line x1={x(t)} x2={x(t)} y1={p.y0} y2={p.y0 + 5} stroke={axisDark} />
        </g>
      ))}
      <line x1={p.x0} x2={p.x1} y1={p.y0} y2={p.y0} stroke={axisDark} strokeWidth={1} />
      <line x1={p.x0} x2={p.x0} y1={p.y0} y2={p.y1} stroke={axisDark} strokeWidth={1} />
      <line x1={p.x1} x2={p.x1} y1={p.y0} y2={p.y1} stroke={axisGray} strokeWidth={1.2} />
      <line x1={p.x0} x2={p.x1} y1={p.y1} y2={p.y1} stroke={axisGray} strokeWidth={1.6} />
      {p.yExp.map((e) => (
        <text key={"yl" + e} x={p.x0 - 7} y={y(Math.pow(10, e)) + 5} textAnchor="end" fontSize={15} fill="#262626" fontFamily={FONT}>
          10
          <tspan dy={-7} dx={1} fontSize={11}>{String(e)}</tspan>
        </text>
      ))}
      {p.xLabels.map((t) => (
        <text key={"xl" + t} x={x(t)} y={p.y1 + 23} textAnchor="middle" fontSize={15} fill="#262626" fontFamily={FONT}>
          {String(t)}
        </text>
      ))}
      {p.legend && (
        <g fontFamily={FONT}>
          <rect x={251} y={44} width={202} height={83} fill="#fff" stroke="#262626" strokeWidth={1} />
          {legendLabels.map((lab, i) => (
            <g key={lab}>
              <line x1={256} x2={306} y1={56.5 + i * 19.5} y2={56.5 + i * 19.5} stroke={LEG_COLORS[i]} strokeWidth={1.3} />
              <text x={310} y={56.5 + i * 19.5 + 5} fontSize={14.5} fill="#111">{lab}</text>
            </g>
          ))}
        </g>
      )}
    </g>
  );
}

export default function App() {
  return (
    <svg
      width={871}
      height={751}
      style={{ position: "absolute", left: 0, top: 0, background: "#fff", display: "block" }}
      fontFamily={FONT}
    >
      <rect x={0} y={0} width={871} height={751} fill="#fff" />
      {PANELS.map((p) => (
        <Panel key={p.id} p={p} />
      ))}
      <text x={243} y={22} textAnchor="middle" fontSize={17} fontWeight="bold" fill="#111">{titles[0]}</text>
      <text x={645} y={22} textAnchor="middle" fontSize={17} fontWeight="bold" fill="#111">{titles[1]}</text>
      <text transform="translate(27,196) rotate(-90)" textAnchor="middle" fontSize={16} fill="#262626">{yTitles[0]}</text>
      <text transform="translate(27,540) rotate(-90)" textAnchor="middle" fontSize={16} fill="#262626">{yTitles[1]}</text>
      <text x={272} y={747} textAnchor="middle" fontSize={16} fill="#262626">{xTitle}</text>
      <text x={668} y={747} textAnchor="middle" fontSize={16} fill="#262626">{xTitle}</text>
    </svg>
  );
}
